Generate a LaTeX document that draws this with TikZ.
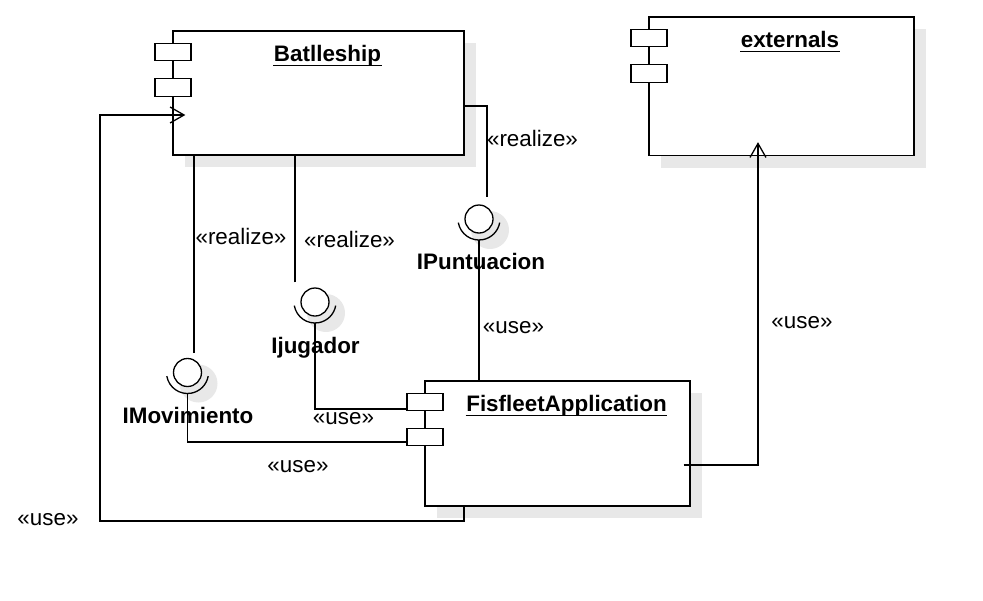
\documentclass[tikz,border=0pt]{standalone}
\usepackage{fontspec}
\setmainfont{Liberation Sans}
\usetikzlibrary{arrows.meta,shadows}
\begin{document}
\begin{tikzpicture}[x=1pt,y=-1pt, line width=1.3pt,
  comp/.style={draw, fill=white, inner sep=0pt,
    drop shadow={shadow xshift=12pt,shadow yshift=-12pt,fill=black!9,opacity=1}},
  port/.style={draw, fill=white, inner sep=0pt, minimum width=36pt, minimum height=17.5pt},
  iface/.style={draw, circle, fill=white, inner sep=0pt, minimum size=28pt},
  ishadow/.style={fill=black!9},
  lbl/.style={inner sep=0pt, anchor=base, font=\fontsize{22.4}{26}\selectfont},
  ttl/.style={inner sep=0pt, anchor=base, font=\fontsize{22.4}{26}\selectfont\bfseries},
  uline/.style={line width=1.2pt},
  openarrow/.style={-{Straight Barb[length=14pt,width=16pt]}}
]
\useasboundingbox (0,0) rectangle (983,600);

% components
\node[comp, minimum width=291pt, minimum height=124pt] (bat) at (318.5,93) {};
\node[comp, minimum width=265pt, minimum height=138.5pt] (ext) at (781.5,86.25) {};
\node[comp, minimum width=265pt, minimum height=125pt] (fis) at (557.5,443.5) {};

% ports
\node[port] (bp1) at (173,52) {};
\node[port] (bp2) at (173,87.5) {};
\node[port] (ep1) at (649,38) {};
\node[port] (ep2) at (649,73.5) {};
\node[port] (fp1) at (425,402) {};
\node[port] (fp2) at (425,437) {};

% titles
\node[ttl] (tbat) at (327.5,61) {Batlleship};
\draw[uline] ([yshift=-4.5pt]tbat.base west) -- ([yshift=-4.5pt]tbat.base east);
\node[ttl] (text) at (790,47) {externals};
\draw[uline] ([yshift=-4.5pt]text.base west) -- ([yshift=-4.5pt]text.base east);
\node[ttl] (tfis) at (566.5,411) {FisfleetApplication};
\draw[uline] ([yshift=-4.5pt]tfis.base west) -- ([yshift=-4.5pt]tfis.base east);

% interfaces
\coordinate (ipc) at (479,219);
\coordinate (ijc) at (315,302);
\coordinate (imc) at (187.5,372.5);
\fill[ishadow] ([shift={(11pt,-11pt)}]ipc) circle[radius=19pt];
\fill[ishadow] ([shift={(11pt,-11pt)}]ijc) circle[radius=19pt];
\fill[ishadow] ([shift={(11pt,-11pt)}]imc) circle[radius=19pt];
\node[iface] (ipunt) at (ipc) {};
\node[iface] (ijug) at (ijc) {};
\node[iface] (imov) at (imc) {};
\draw ([shift={(190:21pt)}]ipc) arc[start angle=190,end angle=350,radius=21pt];
\draw ([shift={(190:21pt)}]ijc) arc[start angle=190,end angle=350,radius=21pt];
\draw ([shift={(190:21pt)}]imc) arc[start angle=190,end angle=350,radius=21pt];

\node[ttl] (lpunt) at (481,269) {IPuntuacion};
\node[ttl] (ljug) at (315.5,353) {Ijugador};
\node[ttl] (lmov) at (188,423) {IMovimiento};

% realize connectors
\coordinate (pr) at (487,106);
\draw (bat.east |- pr) -| ([xshift=8pt,yshift=7pt]ipunt.north);
\draw ([xshift=6.5pt,yshift=5pt]imov.north) -- ([xshift=6.5pt]imov.north |- bat.south);
\draw ([xshift=-20pt,yshift=5pt]ijug.north) -- ([xshift=-20pt]ijug.north |- bat.south);

% use connectors
\draw ([yshift=-21pt]ipunt.center) -- (ipunt.center |- fis.north);
\draw ([yshift=-21pt]ijug.center) |- ([yshift=-7pt]fp1.west);
\draw ([yshift=-21pt]imov.center) |- ([yshift=-5pt]fp2.west);
\draw[openarrow] ([xshift=-7pt,yshift=-21.5pt]fis.east) -| ([xshift=-23.5pt,yshift=14pt]ext.south);
\coordinate (lp) at (100,521);
\draw[openarrow] ([xshift=-93.5pt]fis.south) |- (lp) |- ([xshift=13pt,yshift=-22pt]bat.west);

% labels
\node[lbl] at (532.5,146) {«realize»};
\node[lbl] at (241,244) {«realize»};
\node[lbl] at (349.5,247) {«realize»};
\node[lbl] at (513.5,333) {«use»};
\node[lbl] at (343.5,424) {«use»};
\node[lbl] at (298,472) {«use»};
\node[lbl] at (48,525) {«use»};
\node[lbl] at (802,328) {«use»};
\end{tikzpicture}
\end{document}
